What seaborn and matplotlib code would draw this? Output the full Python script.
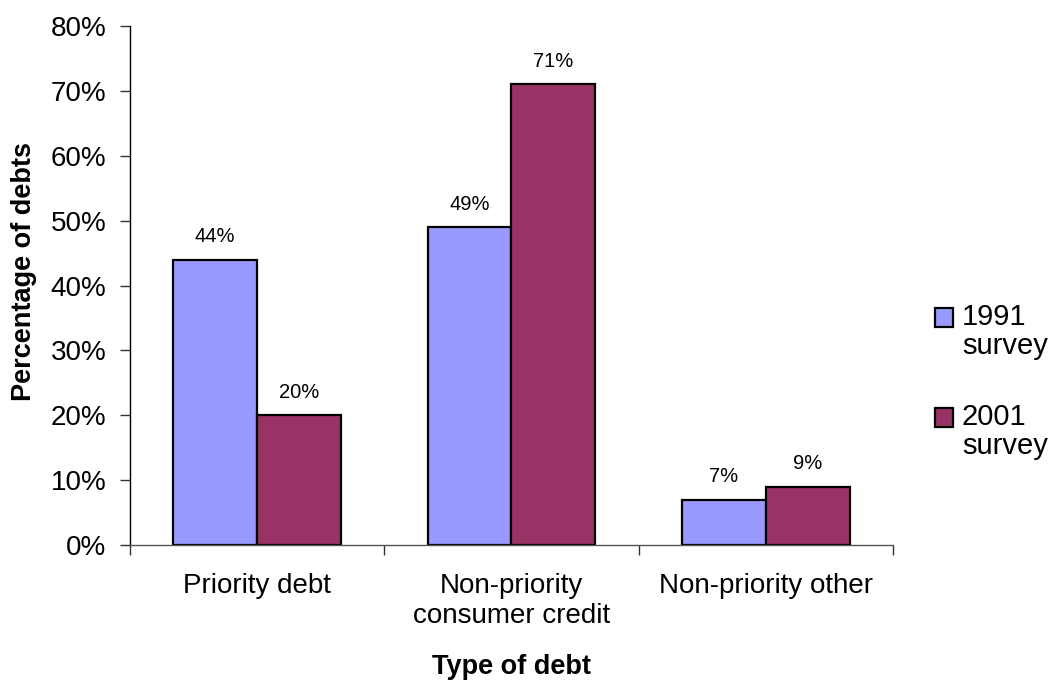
import matplotlib
matplotlib.use("Agg")
import matplotlib.pyplot as plt
import matplotlib.ticker as mticker
from matplotlib.patches import Rectangle
from matplotlib.legend_handler import HandlerPatch
import seaborn as sns
import pandas as pd

categories = ["Priority debt", "Non-priority\nconsumer credit", "Non-priority other"]
surveys = ["1991\nsurvey", "2001\nsurvey"]
values_1991 = [44, 49, 7]
values_2001 = [20, 71, 9]
colors = ["#9999FF", "#993366"]

df = pd.DataFrame({
    "category": categories * 2,
    "survey": [surveys[0]] * 3 + [surveys[1]] * 3,
    "value": values_1991 + values_2001,
})

sns.set_style("white")
plt.rcParams["font.family"] = ["Liberation Sans", "DejaVu Sans"]
plt.rcParams["text.color"] = "black"
plt.rcParams["axes.labelcolor"] = "black"
plt.rcParams["xtick.color"] = "black"
plt.rcParams["ytick.color"] = "black"

fig = plt.figure(figsize=(10.58, 6.81), dpi=100)
ax = fig.add_axes([0.1229, 0.1997, 0.7211, 0.7621])

sns.barplot(data=df, x="category", y="value", hue="survey", order=categories,
            hue_order=surveys, palette=colors, width=0.66, edgecolor="black",
            linewidth=1.6, saturation=1, ax=ax)

for cont in ax.containers:
    ax.bar_label(cont, labels=[f"{v:.0f}%" for v in cont.datavalues],
                 padding=9.5, fontsize=14.5)

ax.set_ylim(0, 80)
ax.set_xlim(-0.5, 2.5)
ax.yaxis.set_major_locator(mticker.MultipleLocator(10))
ax.yaxis.set_major_formatter(mticker.FuncFormatter(lambda v, p: f"{v:.0f}%"))
ax.set_xticks([-0.5, 0.5, 1.5, 2.5], minor=True)
ax.tick_params(axis="x", which="major", length=0, pad=20, labelsize=20)
ax.tick_params(axis="x", which="minor", length=7, width=1, color="#333333", direction="out")
ax.tick_params(axis="y", length=7, width=1, color="#333333", direction="out",
               labelsize=20, pad=10)
ax.tick_params(axis="both", bottom=True, left=True, which="both")

for s in ["top", "right"]:
    ax.spines[s].set_visible(False)
ax.spines["left"].set_color("black")
ax.spines["bottom"].set_color("#555555")
ax.spines["left"].set_linewidth(1)
ax.spines["bottom"].set_linewidth(1)

ax.set_xlabel("Type of debt", fontsize=19.5, fontweight="bold", labelpad=18)
ax.set_ylabel("Percentage of debts", fontsize=19.5, fontweight="bold", labelpad=10)
ax.yaxis.label.set_y(0.527)


# legend swatch lined up with the first line of each two-line label
def top_aligned_swatch(legend, orig_handle, xdescent, ydescent, width, height, fontsize):
    return Rectangle((-xdescent, -ydescent + 0.5 * fontsize), width, height)


leg = ax.legend(loc="center left", bbox_to_anchor=(1.04, 0.315), frameon=False,
                fontsize=21, handlelength=0.62, handleheight=0.62, handletextpad=0.3,
                labelspacing=1.45, borderaxespad=0,
                handler_map={Rectangle: HandlerPatch(patch_func=top_aligned_swatch)})
for h in leg.legend_handles:
    h.set_edgecolor("black")
    h.set_linewidth(1.6)
for t in leg.get_texts():
    t.set_linespacing(1.08)

fig.savefig("out.png", dpi=100)
